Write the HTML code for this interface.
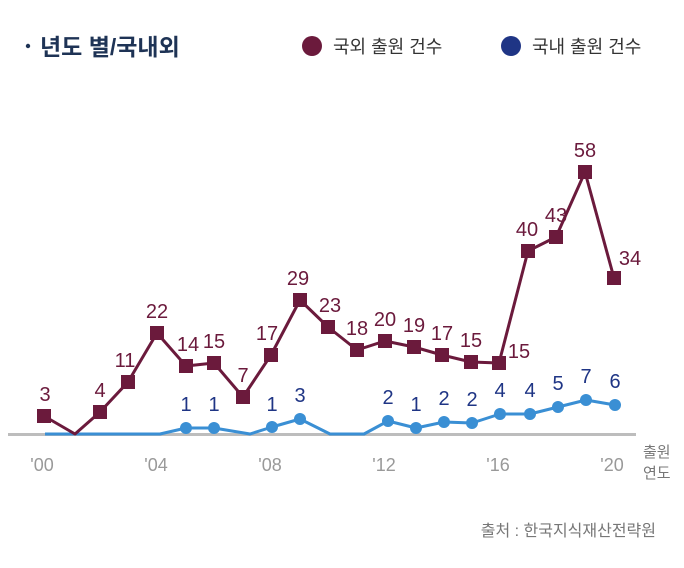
<!DOCTYPE html>
<html><head><meta charset="utf-8"><style>
html,body{margin:0;padding:0;background:#fff;}
svg{display:block;font-family:"Liberation Sans","Noto Sans CJK KR",sans-serif;}
</style></head><body>
<svg width="684" height="568" viewBox="0 0 684 568" xmlns="http://www.w3.org/2000/svg">
<rect width="684" height="568" fill="#fff"/>
<circle cx="28" cy="46" r="2.2" fill="#1e3355"/>
<text x="40" y="55" font-size="23" font-weight="bold" fill="#1e3355">년도 별/국내외</text>
<circle cx="312" cy="46" r="10" fill="#6b1a3c"/>
<text x="333" y="53" font-size="18" fill="#333">국외 출원 건수</text>
<circle cx="511" cy="46" r="10" fill="#1f3585"/>
<text x="532" y="53" font-size="18" fill="#333">국내 출원 건수</text>
<line x1="8" y1="434.5" x2="636" y2="434.5" stroke="#bdbdbd" stroke-width="3"/>
<g font-size="18" fill="#999" text-anchor="middle">
<text x="42" y="471">'00</text><text x="156" y="471">'04</text><text x="270" y="471">'08</text>
<text x="384" y="471">'12</text><text x="498" y="471">'16</text><text x="612" y="471">'20</text>
</g>
<text x="643" y="457" font-size="15" fill="#777">출원</text>
<text x="643" y="478" font-size="15" fill="#777">연도</text>
<text x="656" y="536" font-size="16" fill="#777" text-anchor="end">출처 : 한국지식재산전략원</text>
<polyline fill="none" stroke="#3a8fd4" stroke-width="3" stroke-linejoin="round" points="45,434 160,434 186,428 214,428 250,434 272,427 300,419 330,434 364,434 388,421 416,428 444,422 472,423 500,414 530,414 558,407 586,400 615,405"/>
<g fill="#3a8fd4">
<circle cx="186" cy="428" r="6"/><circle cx="214" cy="428" r="6"/><circle cx="272" cy="427" r="6"/><circle cx="300" cy="419" r="6"/>
<circle cx="388" cy="421" r="6"/><circle cx="416" cy="428" r="6"/><circle cx="444" cy="422" r="6"/><circle cx="472" cy="423" r="6"/>
<circle cx="500" cy="414" r="6"/><circle cx="530" cy="414" r="6"/><circle cx="558" cy="407" r="6"/><circle cx="586" cy="400" r="6"/><circle cx="615" cy="405" r="6"/>
</g>
<g font-size="20" fill="#1f3585" text-anchor="middle">
<text x="186" y="411">1</text><text x="214" y="411">1</text><text x="272" y="411">1</text><text x="300" y="402">3</text>
<text x="388" y="404">2</text><text x="416" y="411">1</text><text x="444" y="405">2</text><text x="472" y="406">2</text>
<text x="500" y="397">4</text><text x="530" y="397">4</text><text x="558" y="390">5</text><text x="586" y="383">7</text><text x="615" y="388">6</text>
</g>
<polyline fill="none" stroke="#6b1a3c" stroke-width="3" stroke-linejoin="round" points="44,416 75,434 100,412 128,382 157,333 186,366 214,363 243,397 271,355 300,300 328,327 357,350 385,341 414,347 442,355 471,362 499,363 528,251 556,237 585,172 614,278"/>
<g fill="#6b1a3c">
<rect x="37" y="409" width="14" height="14"/><rect x="93" y="405" width="14" height="14"/><rect x="121" y="375" width="14" height="14"/>
<rect x="150" y="326" width="14" height="14"/><rect x="179" y="359" width="14" height="14"/><rect x="207" y="356" width="14" height="14"/>
<rect x="236" y="390" width="14" height="14"/><rect x="264" y="348" width="14" height="14"/><rect x="293" y="293" width="14" height="14"/>
<rect x="321" y="320" width="14" height="14"/><rect x="350" y="343" width="14" height="14"/><rect x="378" y="334" width="14" height="14"/>
<rect x="407" y="340" width="14" height="14"/><rect x="435" y="348" width="14" height="14"/><rect x="464" y="355" width="14" height="14"/>
<rect x="492" y="356" width="14" height="14"/><rect x="521" y="244" width="14" height="14"/><rect x="549" y="230" width="14" height="14"/>
<rect x="578" y="165" width="14" height="14"/><rect x="607" y="271" width="14" height="14"/>
</g>
<g font-size="20" fill="#6b1a3c" text-anchor="middle">
<text x="45" y="401">3</text><text x="100" y="397">4</text><text x="125" y="367">11</text><text x="157" y="318">22</text>
<text x="188" y="351">14</text><text x="214" y="348">15</text><text x="243" y="382">7</text><text x="267" y="340">17</text>
<text x="298" y="285">29</text><text x="330" y="312">23</text><text x="357" y="335">18</text><text x="385" y="326">20</text>
<text x="414" y="332">19</text><text x="442" y="340">17</text><text x="471" y="347">15</text><text x="519" y="358">15</text>
<text x="527" y="236">40</text><text x="556" y="222">43</text><text x="585" y="157">58</text><text x="630" y="265">34</text>
</g>
</svg>
</body></html>
